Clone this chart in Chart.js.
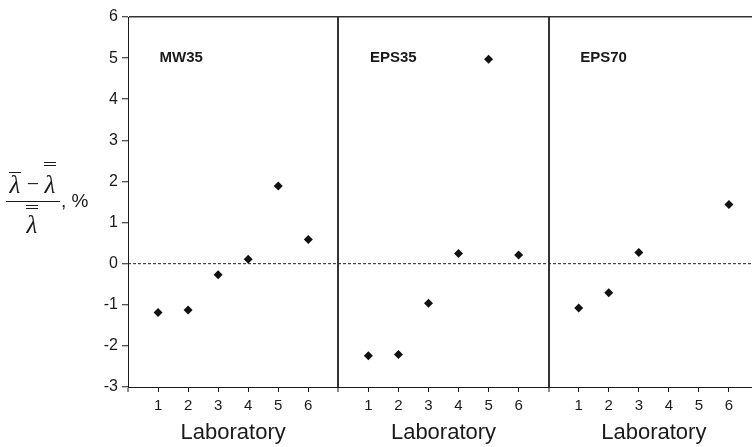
<!DOCTYPE html>
<html>
<head>
<meta charset="utf-8">
<script src="https://cdn.jsdelivr.net/npm/chart.js@4"></script>
<style>
  html, body { margin: 0; padding: 0; background: #fff; overflow: hidden; }
  #wrap { width: 752px; height: 447px; overflow: hidden; }
</style>
</head>
<body>
<div id="wrap"><canvas id="chart" width="764" height="447"></canvas></div>
<script>
// Deviation of each laboratory's mean from the grand mean, %
const labs = [1, 2, 3, 4, 5, 6];
const groups = ['MW35', 'EPS35', 'EPS70'];
const mw35 = [-1.19, -1.13, -0.27, 0.11, 1.89, 0.59];
const eps35 = [-2.24, -2.21, -0.96, 0.25, 4.97, 0.21];
const eps70 = [-1.08, -0.71, 0.27, null, null, 1.44];
const yMin = -3, yMax = 6;
const slots = 7; // positions 0..7 per panel

const series = [mw35, eps35, eps70];
const points = [];
series.forEach((vals, p) => {
    vals.forEach((v, i) => {
        if (v !== null) points.push({ x: p * slots + labs[i], y: v });
    });
});
const xMax = slots * groups.length;
const ink = '#1a1a1a';

// axis title, panel names and "Laboratory" captions
const extras = {
    id: 'extras',
    afterDraw(chart) {
        const { ctx, chartArea, scales: { x, y } } = chart;
        ctx.save();
        ctx.fillStyle = ink;

        ctx.font = 'bold 15px "Liberation Sans", Arial, sans-serif';
        ctx.textAlign = 'left';
        ctx.textBaseline = 'middle';
        groups.forEach((g, p) => {
            ctx.fillText(g, x.getPixelForValue(p * slots + 1.05), y.getPixelForValue(5));
        });

        ctx.font = '22px "Liberation Sans", Arial, sans-serif';
        ctx.textAlign = 'center';
        groups.forEach((g, p) => {
            ctx.fillText('Laboratory', x.getPixelForValue(p * slots + 3.5), 433);
        });

        // y title: (λ̄ − λ̿) / λ̿, %
        const cy = (chartArea.top + chartArea.bottom) / 2 - 1;
        ctx.strokeStyle = ink;
        ctx.lineWidth = 1;
        ctx.font = 'italic 25px "Liberation Serif", "DejaVu Serif", serif';
        ctx.textBaseline = 'alphabetic';
        ctx.fillText('\u03bb', 15, cy - 8);
        ctx.fillText('\u03bb', 50, cy - 8);
        ctx.fillText('\u03bb', 32, cy + 32);
        ctx.font = '22px "Liberation Serif", "DejaVu Serif", serif';
        ctx.fillText('\u2212', 33, cy - 10);
        const bar = (x0, x1, yy) => {
            ctx.beginPath();
            ctx.moveTo(x0, yy + 0.5);
            ctx.lineTo(x1, yy + 0.5);
            ctx.stroke();
        };
        bar(9, 21, cy - 29);
        bar(44, 56, cy - 39);
        bar(44, 56, cy - 36);
        bar(6, 60, cy);
        bar(26, 38, cy + 4);
        bar(26, 38, cy + 7);
        ctx.font = '19px "Liberation Sans", Arial, sans-serif';
        ctx.textAlign = 'left';
        ctx.fillText(', %', 61, cy + 6);
        ctx.restore();
    }
};

new Chart(document.getElementById('chart'), {
    type: 'scatter',
    data: {
        datasets: [{
            data: points,
            pointStyle: 'rectRot',
            pointRadius: 4.5,
            backgroundColor: '#111',
            borderColor: '#111',
            borderWidth: 0
        }, {
            type: 'line',
            data: [{ x: 0, y: 0 }, { x: xMax, y: 0 }],
            borderColor: '#222',
            borderWidth: 1,
            borderDash: [3, 2],
            pointRadius: 0,
            fill: false
        }]
    },
    options: {
        responsive: false,
        animation: false,
        layout: { padding: { top: 17, left: 0, right: 0, bottom: 0 } },
        plugins: { legend: { display: false }, tooltip: { enabled: false } },
        scales: {
            x: {
                type: 'linear',
                min: 0,
                max: xMax,
                afterBuildTicks: scale => {
                    const t = [];
                    for (let v = 0; v <= xMax; v++) t.push({ value: v });
                    scale.ticks = t;
                },
                afterFit: scale => { scale.height = 60; },
                ticks: {
                    autoSkip: false,
                    maxRotation: 0,
                    padding: 5,
                    color: ink,
                    font: { family: '"Liberation Sans", Arial, sans-serif', size: 15 },
                    callback: v => (v % slots === 0 ? '' : String(v % slots))
                },
                grid: {
                    color: c => (c.tick && c.tick.value % slots === 0 && c.tick.value > 0 ? '#333' : 'rgba(0,0,0,0)'),
                    lineWidth: c => (c.tick && c.tick.value % slots === 0 ? 2 : 1),
                    tickColor: ink,
                    tickWidth: 1,
                    tickLength: 5
                },
                border: { display: true, color: ink, width: 1 }
            },
            y: {
                min: yMin,
                max: yMax,
                afterFit: scale => { scale.width = 128; },
                ticks: {
                    stepSize: 1,
                    padding: 4,
                    color: ink,
                    font: { family: '"Liberation Sans", Arial, sans-serif', size: 16 }
                },
                grid: {
                    color: c => (c.tick && c.tick.value === yMax ? '#333' : 'rgba(0,0,0,0)'),
                    lineWidth: 1.5,
                    tickColor: ink,
                    tickWidth: 1,
                    tickLength: 6
                },
                border: { display: true, color: ink, width: 1 }
            }
        }
    },
    plugins: [extras]
});
</script>
</body>
</html>
